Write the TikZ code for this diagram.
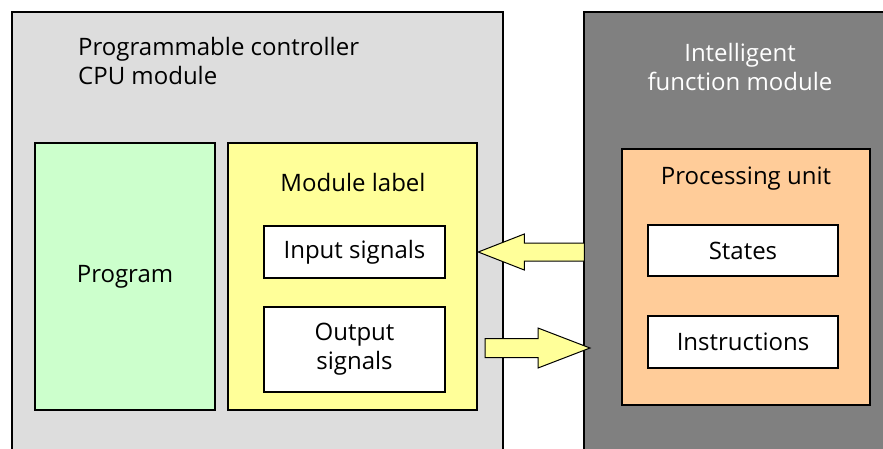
\documentclass[tikz,border=0pt]{standalone}
\usepackage{fontspec}
\setmainfont{Open Sans}
\usetikzlibrary{positioning}
\definecolor{cpugray}{HTML}{DDDDDD}
\definecolor{ifmgray}{HTML}{808080}
\definecolor{proggreen}{HTML}{CCFFCC}
\definecolor{labelyellow}{HTML}{FFFF99}
\definecolor{unitorange}{HTML}{FFCC99}
\begin{document}
\begin{tikzpicture}[x = 1pt, y = -1pt,
	panel/.style = {draw, line width = 1.2pt},
	box/.style = {draw, line width = 2.5pt, inner sep = 0pt, align = center,
		font = \fontsize{24}{29}\selectfont},
	caption/.style = {inner sep = 0pt, font = \fontsize{24}{29}\selectfont},
	bigarrow/.style = {draw, line width = 1pt, fill = labelyellow}]
	\useasboundingbox (0, 0) rectangle (883, 448);
	\clip (0, 0) rectangle (883, 448);
	
	% panels
	\draw[panel, fill = cpugray] (12, 12) rectangle (503, 470);
	\draw[panel, fill = ifmgray] (584, 12) rectangle (900, 470);
	
	% captions
	\node[caption, align = left, anchor = west] (cpu) at (78, 61) {Programmable controller\\CPU module};
	\node[caption, align = center, text = white] (ifm) at (740, 67) {Intelligent\\function module};
	
	% CPU side
	\node[box, fill = proggreen, minimum width = 180, minimum height = 267] (program) at (125, 276.5) {Program};
	\node[box, fill = labelyellow, minimum width = 249, minimum height = 267] (label) at (352.5, 276.5) {};
	\node[caption] (labeltext) at (353, 182) {Module label};
	\node[box, fill = white, minimum width = 181, minimum height = 52] (input) at (354.5, 252) {Input signals};
	\node[box, fill = white, minimum width = 181, minimum height = 85] (output) at (354.5, 349.5) {Output\\signals};
	
	% intelligent function module side
	\node[box, fill = unitorange, minimum width = 248, minimum height = 256] (unit) at (746, 277) {};
	\node[caption] (unittext) at (746, 179) {Processing unit};
	\node[box, fill = white, minimum width = 190, minimum height = 51] (states) at (743, 250.5) {States};
	\node[box, fill = white, minimum width = 190, minimum height = 52] (instr) at (743, 342) {Instructions};
	
	% arrows
	\coordinate (intip) at (label.east |- input);
	\coordinate (outtip) at (590, 348);
	\draw[bigarrow] (intip) -- ++(46, -18) -- ++(0, 9) -- ++(60, 0) -- ++(0, 18) -- ++(-60, 0) -- ++(0, 9) -- cycle;
	\draw[bigarrow] (outtip) -- ++(-52, -20) -- ++(0, 10.5) -- ++(-53, 0) -- ++(0, 19) -- ++(53, 0) -- ++(0, 10.5) -- cycle;
	
\end{tikzpicture}
\end{document}
